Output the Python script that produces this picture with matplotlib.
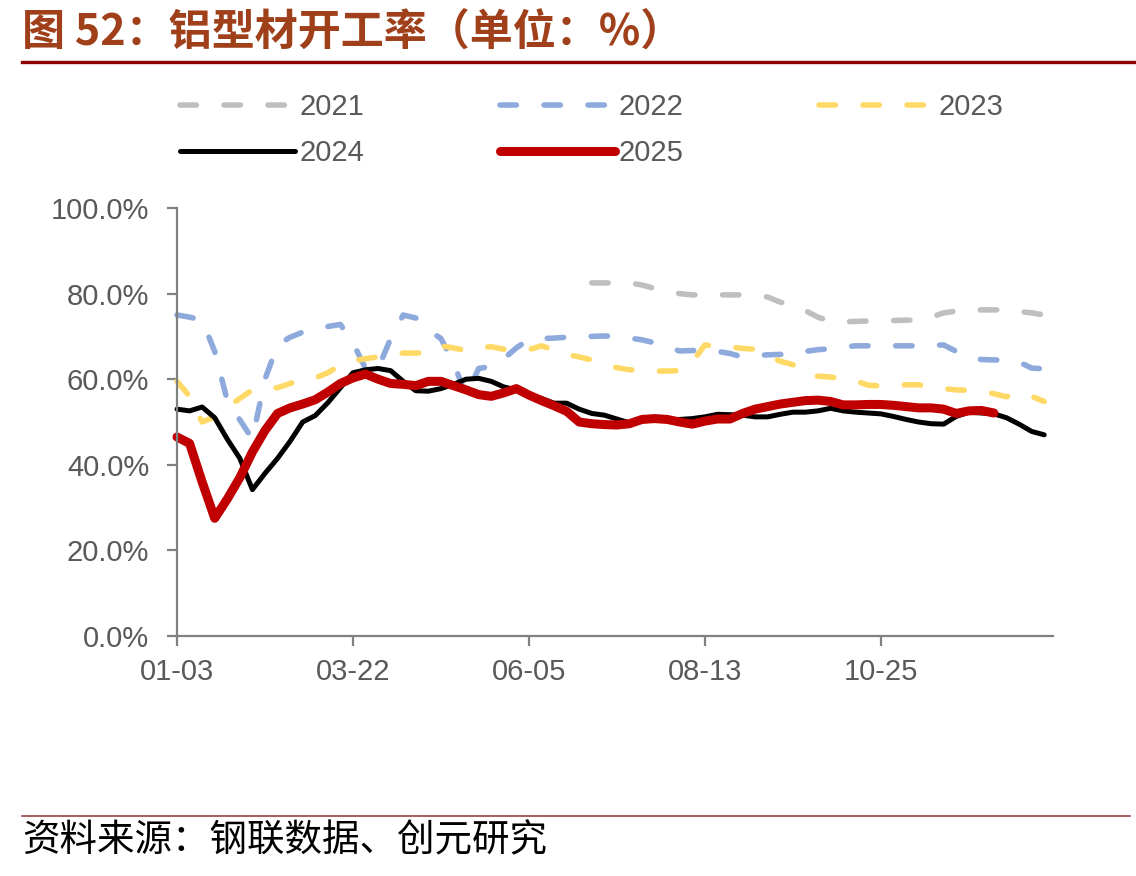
import numpy as np
import matplotlib
matplotlib.use("Agg")
import matplotlib.pyplot as plt
from matplotlib.lines import Line2D

plt.rcParams['font.family'] = ['Liberation Sans', 'Noto Sans CJK SC', 'DejaVu Sans']
CJK = ['Noto Sans CJK SC', 'DejaVu Sans']

# ---------------- data ----------------
series_names = ["2021", "2022", "2023", "2024", "2025"]
x_tick_labels = ["01-03", "03-22", "06-05", "08-13", "10-25"]
y_ticks = [0, 20, 40, 60, 80, 100]

v2021 = [np.nan] * 33 + [
    82.5, 82.5, 82.5, 82.5, 82.0, 81.2, 80.5, 80.0, 79.7, 79.7,
    79.7, 79.7, 79.7, 79.6, 79.2, 78.0, 77.3, 76.0, 74.5, 73.5,
    73.4, 73.5, 73.6, 73.7, 73.7, 73.8, 73.8, 74.5, 75.5, 75.9,
    76.0, 76.2, 76.2, 76.2, 75.8, 75.5, 75.0]

v2022 = [75.0, 74.5, 73.8, 66.5, 55.0, 50.5, 46.0, 60.0, 68.0, 69.8,
         71.0, 71.8, 72.3, 72.8, 68.5, 62.5, 62.5, 69.5, 75.0, 74.3,
         71.5, 69.5, 64.0, 56.0, 62.5, 63.0, 64.8, 67.3, 69.3, 69.5,
         69.6, 69.8, 69.9, 70.0, 70.1, 70.0, 69.6, 69.2, 68.5, 67.5,
         66.6, 66.7, 66.8, 66.5, 66.0, 65.2, 65.5, 65.7, 65.8, 65.7,
         66.5, 66.9, 67.1, 67.5, 67.8, 67.8, 67.8, 67.8, 67.8, 67.8,
         67.9, 68.0, 66.5, 65.0, 64.6, 64.5, 64.5, 64.0, 62.6, 62.4]

v2023 = [59.5, 56.0, 50.0, 51.2, 53.5, 55.5, 57.5, 58.0, 58.0, 59.0,
         59.8, 60.3, 61.5, 63.3, 64.3, 64.8, 65.2, 65.8, 66.1, 66.1,
         66.2, 67.8, 67.3, 66.7, 67.3, 67.6, 67.0, 66.8, 66.9, 67.8,
         66.8, 65.8, 65.2, 64.5, 63.5, 62.7, 62.2, 62.0, 61.9, 61.9,
         62.0, 64.0, 68.0, 67.6, 67.5, 67.2, 67.0, 65.5, 64.2, 63.4,
         61.2, 60.7, 60.5, 60.2, 59.6, 58.6, 58.4, 58.4, 58.7, 58.7,
         58.0, 57.8, 57.5, 57.4, 57.2, 56.6, 55.9, 56.8, 56.0, 54.8]

v2024 = [53.0, 52.6, 53.5, 51.0, 46.0, 41.5, 34.2, 38.0, 41.5, 45.5,
         50.0, 51.5, 54.5, 58.0, 61.5, 62.2, 62.5, 62.0, 59.5, 57.3,
         57.2, 57.8, 58.8, 60.0, 60.2, 59.5, 58.2, 57.5, 56.5, 55.5,
         54.4, 54.4, 53.0, 52.0, 51.6, 50.7, 49.8, 50.3, 50.4, 50.5,
         50.6, 50.8, 51.2, 51.8, 51.7, 51.6, 51.2, 51.2, 51.8, 52.3,
         52.3, 52.6, 53.2, 52.6, 52.3, 52.1, 51.9, 51.3, 50.6, 50.0,
         49.6, 49.5, 51.3, 52.3, 52.1, 51.9, 51.0, 49.5, 47.8, 47.0]

v2025 = [46.5, 45.0, 36.0, 27.5, 32.0, 37.0, 43.0, 48.0, 52.0, 53.3,
         54.2, 55.2, 57.0, 59.0, 60.3, 61.2, 60.0, 59.0, 58.8, 58.5,
         59.5, 59.5, 58.5, 57.5, 56.4, 56.0, 56.8, 57.8, 56.3, 55.0,
         53.8, 52.5, 50.0, 49.6, 49.4, 49.3, 49.6, 50.6, 50.8, 50.6,
         50.0, 49.5, 50.2, 50.7, 50.7, 52.0, 53.0, 53.6, 54.2, 54.6,
         55.0, 55.1, 54.8, 54.0, 54.0, 54.1, 54.1, 53.9, 53.6, 53.3,
         53.3, 53.0, 52.0, 52.6, 52.7, 52.1]

# ---------------- figure ----------------
W, H = 1136, 876
fig = plt.figure(figsize=(W / 100, H / 100), dpi=100)
ax = fig.add_axes([177 / W, 1 - 636 / H, 876 / W, 428 / H])

dash = (0, (2.95, 4.97))
styles = {
    "2021": dict(color="#BFBFBF", lw=4.0, ls=dash),
    "2022": dict(color="#8EA9DB", lw=4.0, ls=dash),
    "2023": dict(color="#FFD966", lw=4.0, ls=dash),
    "2024": dict(color="#000000", lw=3.6, ls="-"),
    "2025": dict(color="#C00000", lw=6.5, ls="-"),
}
data = {"2021": v2021, "2022": v2022, "2023": v2023, "2024": v2024, "2025": v2025}

handles = {}
for name in series_names:
    vals = np.asarray(data[name], dtype=float)
    xs = np.arange(len(vals))
    st = styles[name]
    (ln,) = ax.plot(xs, vals, color=st["color"], lw=st["lw"], linestyle=st["ls"],
                    dash_capstyle="round", solid_capstyle="round",
                    solid_joinstyle="round", dash_joinstyle="round",
                    clip_on=False, label=name)
    handles[name] = ln

ax.set_xlim(0, 69.7)
ax.set_ylim(0, 100)

ax.set_yticks(y_ticks)
ax.set_yticklabels([f"{v:.1f}%" for v in y_ticks])
ax.set_xticks(np.arange(len(x_tick_labels)) * 14)
ax.set_xticklabels(x_tick_labels)

for side in ("top", "right"):
    ax.spines[side].set_visible(False)
for side in ("left", "bottom"):
    ax.spines[side].set_color("#808080")
    ax.spines[side].set_linewidth(1.6)

ax.tick_params(axis="both", direction="out", length=7, width=1.6, color="#808080",
               labelsize=21, labelcolor="#595959")
ax.tick_params(axis="y", pad=13)
ax.tick_params(axis="x", pad=9)

order = ["2021", "2024", "2022", "2025", "2023"]
leg = ax.legend([handles[n] for n in order], order, ncol=3, loc="upper left",
                bbox_to_anchor=(180 / W, 1 - 93 / H), bbox_transform=fig.transFigure,
                frameon=False, fontsize=21, handlelength=3.94, handletextpad=0.15,
                columnspacing=4.65, labelspacing=0.62, borderpad=0, borderaxespad=0)
for t in leg.get_texts():
    t.set_color("#595959")

# title and rules
fig.text(22 / W, 1 - 32 / H, "图 52：铝型材开工率（单位：%）", ha="left", va="center",
         fontsize=31, fontweight="bold", color="#A0401A", family=CJK)
fig.add_artist(Line2D([22 / W, 1.0], [1 - 62 / H, 1 - 62 / H], color="#8B0000", lw=2.4,
                      transform=fig.transFigure))
fig.add_artist(Line2D([22 / W, 1130 / W], [1 - 816 / H, 1 - 816 / H], color="#A04040",
                      lw=1.2, transform=fig.transFigure))
fig.text(22 / W, 1 - 841 / H, "资料来源：钢联数据、创元研究", ha="left", va="center",
         fontsize=27, color="#000000", family=CJK)

fig.savefig("out.png", dpi=100)
